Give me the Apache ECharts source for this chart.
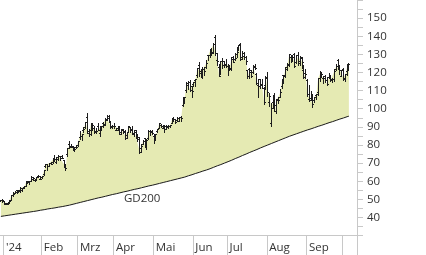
<!DOCTYPE html>
<html><head><meta charset="utf-8">
<script src="https://cdn.jsdelivr.net/npm/echarts/dist/echarts.min.js"></script>
<style>html,body{margin:0;padding:0;background:#fff}#c{width:426px;height:255px}</style>
</head><body><div id="c"></div>
<script>
// trading days per month (categories)
const monthDays = [
  ['2023-12', [28,29]],
  ['2024-01', [2,3,4,5,8,9,10,11,12,16,17,18,19,22,23,24,25,26,29,30,31]],
  ['2024-02', [1,2,5,6,7,8,9,12,13,14,15,16,20,21,22,23,26,27,28,29]],
  ['2024-03', [1,4,5,6,7,8,11,12,13,14,15,18,19,20,21,22,25,26,27,28]],
  ['2024-04', [1,2,3,4,5,8,9,10,11,12,15,16,17,18,19,22,23,24,25,26,29,30]],
  ['2024-05', [1,2,3,6,7,8,9,10,13,14,15,16,17,20,21,22,23,24,28,29,30,31]],
  ['2024-06', [3,4,5,6,7,10,11,12,13,14,17,18,20,21,24,25,26,27,28]],
  ['2024-07', [1,2,3,5,8,9,10,11,12,15,16,17,18,19,22,23,24,25,26,29,30,31]],
  ['2024-08', [1,2,5,6,7,8,9,12,13,14,15,16,19,20,21,22,23,26,27,28,29,30]],
  ['2024-09', [3,4,5,6,9,10,11,12,13,16,17,18,19,20,23,24,25,26,27,30]],
  ['2024-10', [1,2,3,4,7,8,9,10]]
];
const monthLabels = {'2024-01':"'24",'2024-02':'Feb','2024-03':'Mrz','2024-04':'Apr','2024-05':'Mai','2024-06':'Jun','2024-07':'Jul','2024-08':'Aug','2024-09':'Sep'};
const tickMonths = ['2024-01','2024-02','2024-03','2024-04','2024-05','2024-06','2024-07','2024-08','2024-09','2024-10'];
const yTickLabels = [40,50,60,70,80,90,100,110,120,130,140,150];

const open = [
  49.6,49.8,
  49.2,47.5,47.8,48.5,49.5,52.4,53.6,54.9,54.6,55.0,55.3,56.7,57.6,60.2,59.9,60.3,62.1,60.9,61.2,62.9,61.4,
  62.2,63.9,68.2,69.3,68.2,70.0,70.5,72.6,70.4,73.2,73.9,74.1,71.9,68.0,75.0,80.7,79.7,79.4,77.6,79.1,
  80.0,84.2,85.2,88.0,90.1,95.2,86.4,88.0,91.0,89.5,86.9,90.4,86.8,89.8,92.3,91.1,93.9,95.8,93.1,90.0,
  90.3,88.4,88.5,90.4,86.9,88.7,87.8,83.9,87.4,89.7,89.0,86.5,88.3,84.9,83.1,78.1,80.8,83.9,78.9,83.8,87.6,87.2,
  85.0,84.5,87.8,89.6,91.1,89.5,90.4,90.7,90.4,90.4,92.2,94.8,94.3,93.8,93.5,95.5,102.0,104.4,110.2,113.1,114.7,112.5,
  113.6,115.7,118.4,124.0,119.8,120.4,121.8,123.1,129.4,129.9,133.0,131.1,139.8,127.1,123.2,121.2,126.1,124.1,124.6,
  123.5,121.1,121.7,127.4,127.5,130.4,134.0,135.8,128.3,130.6,128.4,121.4,121.9,120.4,120.4,122.8,119.2,113.0,116.2,113.7,111.5,112.9,
  117.5,103.8,92.1,103.8,107.8,102.0,105.6,106.3,112.4,118.5,118.8,121.9,124.3,128.4,127.3,130.0,125.9,129.6,125.1,128.1,121.4,119.5,
  116.0,105.4,105.0,108.0,104.9,107.8,109.4,116.8,119.1,116.8,118.2,115.9,117.4,117.1,116.6,116.5,122.0,126.8,124.0,118.3,
  121.8,116.4,120.9,124.9
];
const high = [
  49.9,50.0,
  49.3,48.2,48.5,49.5,52.3,54.3,54.6,55.3,55.0,56.6,56.4,57.5,59.5,60.3,60.2,62.8,62.3,61.5,62.5,63.5,62.8,
  63.1,66.1,69.4,69.4,70.1,70.5,72.1,74.6,73.1,74.2,74.0,74.4,71.9,69.1,78.6,82.4,80.6,79.7,78.9,79.9,
  82.3,87.7,86.1,89.7,92.7,97.4,88.8,91.9,91.9,90.6,89.6,92.4,90.6,90.4,92.9,94.7,96.8,96.4,93.2,91.2,
  92.3,89.5,90.3,90.6,88.7,88.8,88.0,87.4,90.7,90.1,90.6,88.1,88.4,86.1,84.3,80.4,82.9,84.0,83.4,88.0,88.0,88.5,
  86.0,86.0,89.0,92.2,91.8,91.2,90.8,91.3,91.0,91.3,94.7,95.2,94.6,95.5,95.4,96.0,106.3,106.5,114.9,115.5,115.8,112.7,
  115.0,116.6,122.4,125.6,121.7,123.1,122.9,126.9,129.8,132.8,133.7,136.3,140.8,130.6,124.5,126.5,128.1,126.4,127.7,
  124.8,123.4,128.3,128.9,130.8,133.8,135.1,136.2,131.9,131.4,129.0,121.6,122.4,121.6,124.1,124.7,119.9,116.6,116.2,116.3,112.0,118.3,
  120.2,108.7,103.4,107.7,108.8,105.5,106.6,111.1,116.2,118.6,123.0,125.0,130.0,129.9,129.4,130.8,129.6,131.3,129.2,128.3,124.4,121.8,
  116.2,113.3,109.7,108.2,106.6,108.4,117.2,120.8,120.0,118.2,118.8,117.7,119.7,118.6,117.0,121.8,124.9,127.7,124.0,121.5,
  122.4,119.4,124.4,125.0
];
const low = [
  49.3,48.8,
  47.6,47.3,47.5,48.3,49.5,51.7,53.5,53.6,54.2,54.2,54.8,56.3,57.3,58.9,58.5,60.2,60.6,60.2,60.8,62.2,61.0,
  61.9,63.7,67.6,66.4,68.2,69.3,70.2,71.3,70.3,71.9,71.8,72.6,67.7,66.2,74.1,78.2,78.9,77.0,76.8,78.3,
  79.4,83.4,83.0,87.0,89.6,86.5,84.8,85.6,88.1,86.8,86.4,88.4,85.0,88.0,90.0,91.0,93.7,92.5,89.3,89.2,
  89.6,88.3,88.1,85.9,86.0,86.6,83.1,83.6,86.9,87.2,85.9,85.0,83.8,82.4,75.6,76.4,80.5,79.5,77.8,83.3,85.5,86.3,
  81.2,82.6,86.9,89.3,89.8,89.5,87.4,89.0,89.2,89.8,91.9,93.2,92.0,93.5,93.2,93.2,101.5,103.0,109.0,110.9,109.7,106.4,
  112.3,112.7,117.5,118.3,117.6,117.0,118.7,122.7,127.1,128.5,129.6,130.7,129.5,124.3,118.0,119.3,122.6,122.9,122.8,
  118.8,121.1,121.4,125.7,127.0,128.7,132.4,127.0,127.2,127.2,124.6,116.7,116.7,117.4,119.9,122.1,113.4,106.3,111.6,111.3,102.5,110.9,
  106.8,101.4,90.7,100.6,98.7,97.5,103.4,106.3,111.6,114.1,117.7,121.2,123.4,125.9,126.5,123.1,125.2,124.4,123.9,122.6,116.7,117.2,
  107.3,104.1,104.8,101.0,103.7,105.3,107.4,115.4,117.6,114.4,114.8,113.2,117.3,115.4,114.9,115.4,121.6,121.8,119.3,118.2,
  115.8,115.1,118.6,121.2
];
const close = [
  49.5,49.5,
  48.2,47.6,48.0,49.1,52.3,53.1,54.3,54.8,54.7,56.4,56.1,57.1,59.5,59.7,59.9,61.3,61.6,61.0,62.4,62.8,61.5,
  63.0,66.1,69.3,68.2,70.0,69.6,72.1,72.2,72.1,73.9,72.6,72.6,69.4,67.5,78.5,78.8,79.1,78.7,77.6,79.1,
  82.3,85.2,85.9,88.7,92.7,87.5,85.8,91.9,90.9,87.9,87.8,88.4,89.4,90.4,91.4,94.3,95.0,92.5,90.2,90.4,
  90.3,89.4,88.9,85.9,88.0,87.1,85.3,87.0,90.6,88.1,86.0,87.4,84.0,84.6,76.2,79.5,82.4,79.6,82.6,87.7,87.7,86.4,
  83.0,85.8,88.8,92.1,90.6,90.4,88.7,89.9,90.4,91.3,94.6,94.4,92.5,94.8,95.4,94.9,103.8,106.5,114.0,114.8,110.5,109.6,
  115.0,116.4,122.4,120.9,120.9,121.8,120.9,125.2,129.6,131.9,131.0,135.6,130.8,126.6,118.1,126.1,126.4,124.0,123.5,
  124.3,122.7,128.3,125.8,128.2,131.4,134.9,127.4,129.2,128.4,126.4,118.0,121.1,117.9,123.5,122.6,114.3,112.3,113.1,111.6,103.7,117.0,
  109.2,107.3,100.5,104.3,98.9,105.0,104.8,109.0,116.1,118.1,122.9,124.6,130.0,127.3,128.5,123.7,129.4,126.5,128.3,125.6,117.6,119.4,
  108.0,106.2,107.2,102.8,106.5,108.1,116.9,119.1,119.1,116.8,115.6,113.4,117.9,116.0,116.3,120.9,123.5,124.0,121.4,121.4,
  117.0,118.9,122.9,124.9
];
const gd200 = [
  40.6,40.7,
  40.9,41.0,41.2,41.3,41.5,41.6,41.8,41.9,42.1,42.2,42.4,42.5,42.7,42.8,43.0,43.1,43.3,43.5,43.6,43.8,44.0,
  44.1,44.3,44.5,44.7,44.8,45.0,45.2,45.3,45.5,45.7,45.9,46.0,46.2,46.4,46.6,46.8,47.1,47.3,47.6,47.8,
  48.1,48.3,48.6,48.8,49.0,49.3,49.5,49.8,50.0,50.3,50.5,50.8,51.0,51.2,51.5,51.7,51.9,52.2,52.4,52.7,
  52.9,53.1,53.4,53.6,53.8,54.1,54.3,54.5,54.8,55.0,55.2,55.5,55.7,55.9,56.2,56.4,56.6,56.9,57.1,57.4,57.6,57.8,
  58.1,58.3,58.6,58.8,59.1,59.3,59.6,59.8,60.0,60.3,60.5,60.8,61.0,61.3,61.5,61.8,62.0,62.3,62.7,63.0,63.3,63.6,
  64.0,64.3,64.6,64.9,65.3,65.6,65.9,66.2,66.6,66.9,67.3,67.7,68.1,68.5,68.9,69.2,69.6,70.0,70.4,
  70.8,71.2,71.6,72.1,72.5,72.9,73.3,73.8,74.2,74.6,75.0,75.5,75.9,76.3,76.7,77.1,77.5,77.9,78.4,78.8,79.2,79.6,
  80.0,80.4,80.8,81.2,81.6,82.0,82.4,82.8,83.2,83.6,84.0,84.4,84.8,85.1,85.5,85.8,86.2,86.5,86.9,87.2,87.6,87.9,
  88.3,88.6,88.9,89.3,89.6,89.9,90.3,90.6,90.9,91.3,91.6,91.9,92.3,92.6,92.9,93.3,93.6,93.9,94.3,94.6,
  94.9,95.2,95.6,95.9
];

const dates = [];
const monthStart = {};
monthDays.forEach(([m, days]) => days.forEach((d, k) => {
  const s = m + '-' + String(d).padStart(2, '0');
  if (k === 0) monthStart[s] = m;
  dates.push(s);
}));
const isTick = (i, v) => !!monthStart[v] && tickMonths.includes(monthStart[v]);
const isLabel = (i, v) => !!monthStart[v] && monthLabels[monthStart[v]] !== undefined;

const ohlc = close.map((c, i) => [i, open[i], c, low[i], high[i]]);
const band = close.map((c, i) => +(c - gd200[i]).toFixed(2));

const GRAY = '#c8c8c8', TXT = '#333', FONT = 'Open Sans';
const chart = echarts.init(document.getElementById('c'));
chart.setOption({
  animation: false,
  grid: {left: 0, right: 69, top: -2.3, bottom: 19.4, containLabel: false},
  xAxis: {
    type: 'category', data: dates, boundaryGap: true,
    axisLine: {show: true, lineStyle: {color: GRAY}},
    axisTick: {show: true, length: 20, interval: isTick, lineStyle: {color: GRAY}},
    axisLabel: {interval: isLabel, formatter: v => monthLabels[v.slice(0, 7)] || '',
      align: 'left', padding: [0, 0, 0, 1.5], margin: 5, lineHeight: 14,
      color: TXT, fontFamily: FONT, fontSize: 11.5},
    splitLine: {show: false}
  },
  yAxis: {
    type: 'value', position: 'right', min: 30, max: 160, interval: 10,
    axisLine: {show: true, lineStyle: {color: GRAY}},
    axisTick: {show: true, length: 6, lineStyle: {color: GRAY}},
    minorTick: {show: true, splitNumber: 2, length: 6, lineStyle: {color: GRAY}},
    splitLine: {show: false}, minorSplitLine: {show: false},
    axisLabel: {margin: 10, color: TXT, fontFamily: FONT, fontSize: 11.5,
      formatter: v => yTickLabels.includes(v) ? String(v) : ''}
  },
  series: [
    {name: 'GD200', type: 'line', data: gd200, stack: 'b', symbol: 'none', z: 3,
      lineStyle: {color: '#1a1a1a', width: 1}},
    {name: 'band', type: 'line', data: band, stack: 'b', symbol: 'none', z: 1,
      lineStyle: {width: 0}, areaStyle: {color: '#e5eab3', opacity: 1}},
    {name: 'Kurs', type: 'custom', data: ohlc, z: 4,
      dimensions: ['i', 'open', 'close', 'low', 'high'],
      encode: {x: 0, y: [1, 2, 3, 4]},
      renderItem: (params, api) => {
        const i = api.value(0);
        const pO = api.coord([i, api.value(1)]);
        const pC = api.coord([i, api.value(2)]);
        const pL = api.coord([i, api.value(3)]);
        const pH = api.coord([i, api.value(4)]);
        const col = Math.floor(pO[0]);
        const st = {stroke: '#1e1e1e', lineWidth: 1};
        const yo = Math.round(pO[1]) + 0.5, yc = Math.round(pC[1]) + 0.5;
        return {type: 'group', children: [
          {type: 'line', shape: {x1: col + 0.5, y1: Math.round(pH[1]), x2: col + 0.5, y2: Math.round(pL[1]) + 1}, style: st},
          {type: 'line', shape: {x1: col - 1, y1: yo, x2: col, y2: yo}, style: st},
          {type: 'line', shape: {x1: col + 1, y1: yc, x2: col + 2, y2: yc}, style: st}
        ]};
      }
    }
  ],
  graphic: [
    {type: 'line', shape: {x1: 357.5, y1: 235, x2: 357.5, y2: 255}, style: {stroke: GRAY, lineWidth: 1}, silent: true},
    {type: 'text', left: 124, top: 193, style: {text: 'GD200', fill: TXT, font: '11.5px "Open Sans"'}, silent: true}
  ]
});
</script>
</body></html>
